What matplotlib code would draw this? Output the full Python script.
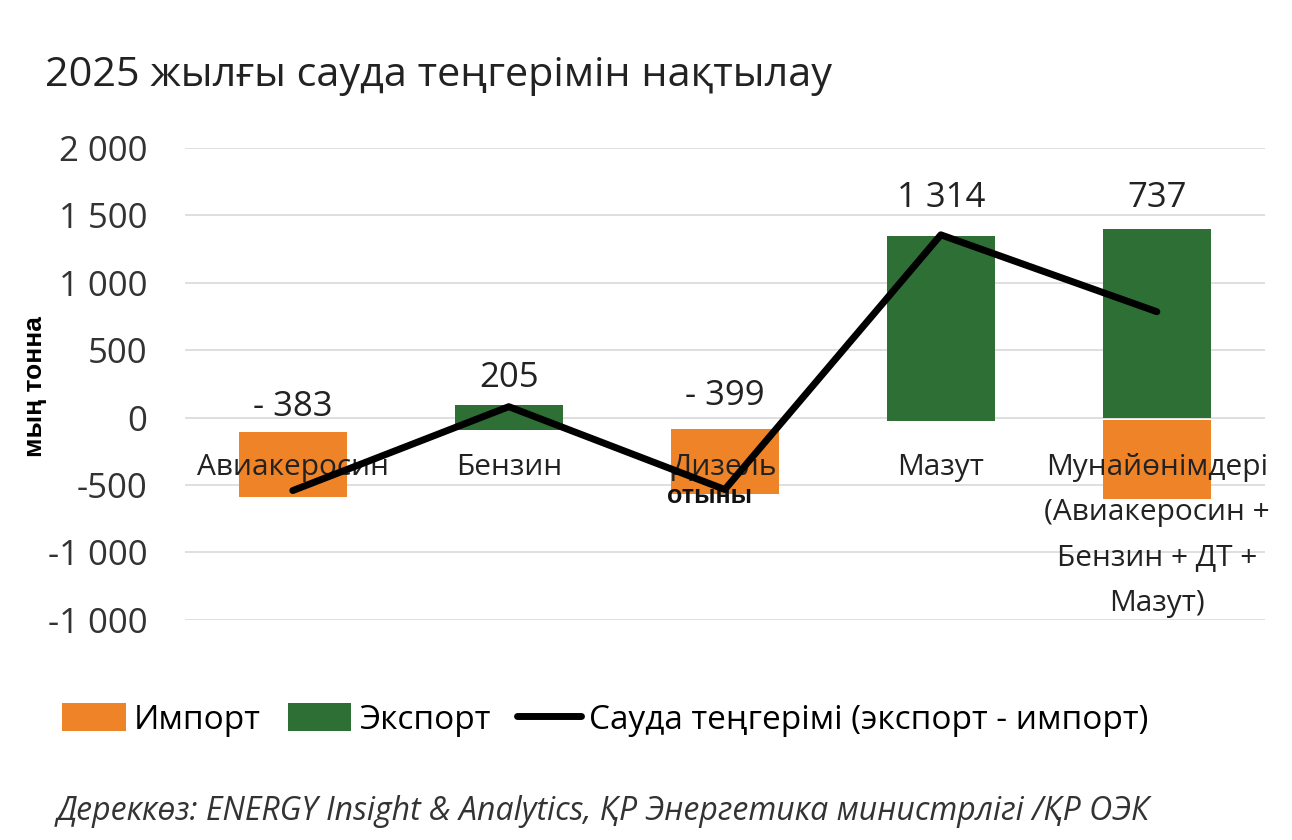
import matplotlib.pyplot as plt
import numpy as np

categories = ["Авиакеросин", "Бензин", "Дизель", "Мазут",
              "Мунайөнімдері\n(Авиакеросин +\nБензин + ДТ +\nМазут)"]
# floating bars: (bottom, top)
import_bottom = [-585, np.nan, -570, np.nan, -607]
import_top = [-104, np.nan, -81, np.nan, -15]
export_bottom = [np.nan, -89, np.nan, -22, 0]
export_top = [np.nan, 96, np.nan, 1348, 1400]
balance = [-541, 81, -533, 1355, 785]
value_labels = ["- 383", "205", "- 399", "1 314", "737"]
value_label_y = [81, 296, 163, 1630, 1630]
yticks = [2000, 1500, 1000, 500, 0, -500, -1000, -1500]
ytick_labels = ["2 000", "1 500", "1 000", "500", "0", "-500", "-1 000", "-1 000"]

ORANGE = "#EE8327"
GREEN = "#2E6F36"
FONT = "Open Sans"

plt.rcParams['font.family'] = [FONT, 'DejaVu Sans']

fig = plt.figure(figsize=(12.92, 8.4), dpi=100)
ax = fig.add_axes([0.143, 0.262, 0.836, 0.562])

x = np.arange(len(categories))
imp_b = np.array(import_bottom, dtype=float)
imp_t = np.array(import_top, dtype=float)
exp_b = np.array(export_bottom, dtype=float)
exp_t = np.array(export_top, dtype=float)

b1 = ax.bar(x, imp_t - imp_b, bottom=imp_b, width=0.5, color=ORANGE, zorder=2)
b2 = ax.bar(x, exp_t - exp_b, bottom=exp_b, width=0.5, color=GREEN, zorder=2)
ln, = ax.plot(x, balance, color="black", lw=5, zorder=5, solid_capstyle="round")

for i, (lab, yv) in enumerate(zip(value_labels, value_label_y)):
    ax.text(i, yv, lab, ha="center", va="center", fontsize=25, color="#222222", zorder=4)

# category labels drawn inside the plot
for i, cat in enumerate(categories):
    if i == 4:
        ax.text(i, -262, cat, ha="center", va="top", fontsize=21.5, color="#222222",
                zorder=4, linespacing=1.75, clip_on=False)
    else:
        ax.text(i, -370, cat, ha="center", va="center", fontsize=21.5, color="#222222",
                zorder=4)
ax.text(1.93, -580, "отыны", ha="center", va="center", fontsize=18, fontweight="bold",
        family="Liberation Sans", color="#111111", zorder=4)

ax.set_xlim(-0.5, 4.5)
ax.set_ylim(-1500, 2000)
ax.set_yticks(yticks)
ax.set_yticklabels(ytick_labels, fontsize=25, color="#333333")
ax.set_xticks([])
ax.tick_params(axis="y", length=0, pad=27)
ax.grid(axis="y", color="#d9d9d9", lw=1.2, zorder=0)
for s in ax.spines.values():
    s.set_visible(False)

fig.text(0.027, 0.54, "мың тонна", rotation=90, ha="center", va="center",
         fontsize=19, fontweight="bold", family="Liberation Sans")
fig.text(0.035, 0.91, "2025 жылғы сауда теңгерімін нақтылау", fontsize=29.8,
         ha="left", va="center", color="#222222")

fig.legend([b1, b2, ln], ["Импорт", "Экспорт", "Сауда теңгерімі (экспорт - импорт)"],
           loc="center left", bbox_to_anchor=(0.025, 0.143), ncol=3, frameon=False,
           fontsize=24, handlelength=1.9, handleheight=0.9, columnspacing=0.8,
           handletextpad=0.25)
fig.text(0.044, 0.034, "Дереккөз: ENERGY Insight & Analytics, ҚР Энергетика министрлігі /ҚР ОЭК",
         fontsize=23, style="italic", ha="left", va="center", color="#333333")

fig.savefig("out.png", dpi=100, facecolor="white")
